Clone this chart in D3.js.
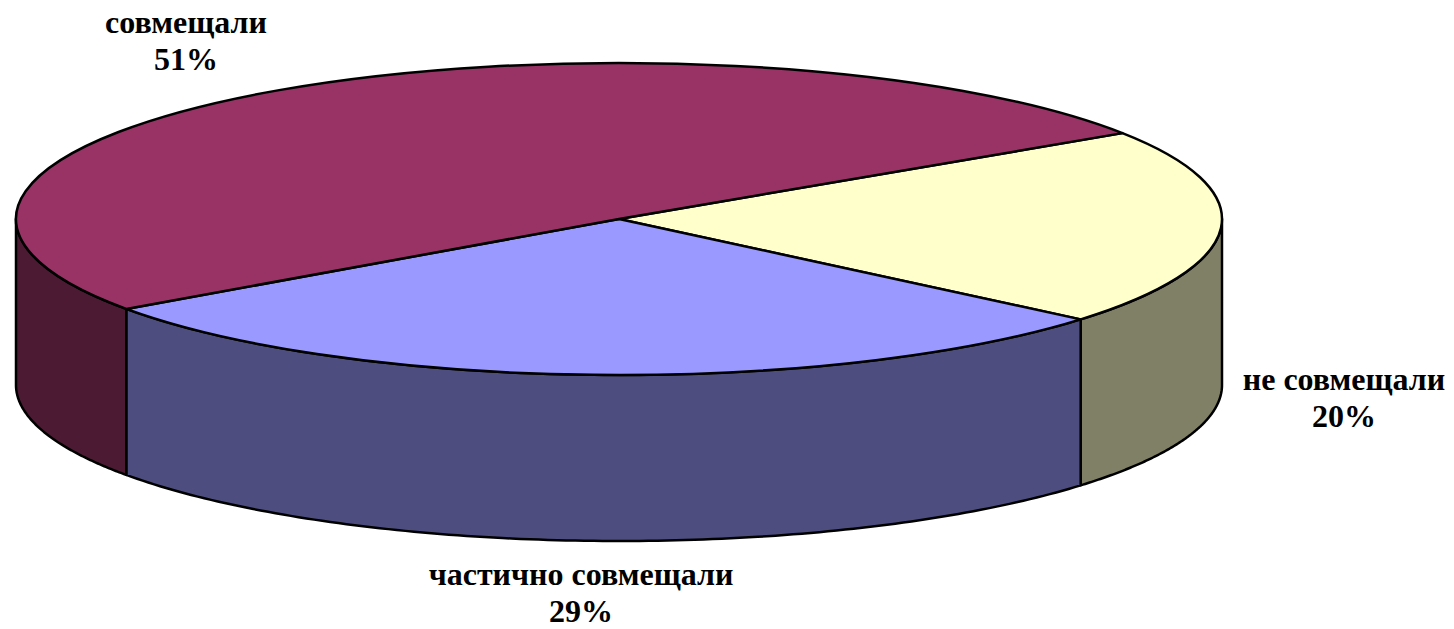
<!DOCTYPE html>
<html>
<head>
<meta charset="utf-8">
<script src="https://cdn.jsdelivr.net/npm/d3@7"></script>
<style>
    html, body { margin: 0; padding: 0; background: #fff; }
    svg { display: block; }
    text { font-family: "Liberation Serif", serif; font-weight: bold; font-size: 32px; fill: #000; }
</style>
</head>
<body>
<div id="chart"></div>
<script>
// Data, in drawing order (clockwise from the upper right edge)
const categories = ['не совмещали', 'частично совмещали', 'совмещали'];
const percentLabels = ['20%', '29%', '51%'];
// slice sizes
const shares = [20.4, 29.1, 50.5];
const topColors = ['#FFFFCC', '#9999FF', '#993366'];
const sideColors = ['#808066', '#4D4D80', '#4D1A33'];

const width = 1454, height = 629;
const cx = 619, cy = 219;      // centre of the top ellipse
const rx = 603, ry = 156;      // ellipse radii
const depth = 166;             // height of the disc
const startAngle = 56.6 * Math.PI / 180;
const unit = 1000;             // radius of the arcs before they get squashed

const svg = d3.select('#chart')
    .append('svg')
    .attr('width', width)
    .attr('height', height);

const slices = d3.pie()
    .sort(null)
    .startAngle(startAngle)
    .endAngle(startAngle + 2 * Math.PI)
    .value(d => d)(shares);

// d3 angles: 0 at twelve o'clock, going clockwise
const px = a => cx + rx * Math.sin(a);
const py = a => cy - ry * Math.cos(a);

const line = d3.line().x(d => d[0]).y(d => d[1]);

// Only the front half of the disc (90deg..270deg) has a visible wall
function wallPath(slice) {
    const a0 = Math.max(slice.startAngle, Math.PI / 2);
    const a1 = Math.min(slice.endAngle, 3 * Math.PI / 2);
    if (a1 <= a0) return null;
    const steps = d3.range(0, 121).map(i => a0 + (a1 - a0) * i / 120);
    const top = steps.map(a => [px(a), py(a)]);
    const bottom = steps.slice().reverse().map(a => [px(a), py(a) + depth]);
    return line(top.concat(bottom)) + 'Z';
}

// Walls
svg.append('g')
    .selectAll('path')
    .data(slices)
    .enter()
    .append('path')
    .attr('d', wallPath)
    .attr('fill', (d, i) => sideColors[i])
    .attr('stroke', '#000')
    .attr('stroke-width', 2.5)
    .attr('stroke-linejoin', 'round');

// Top of the disc
const arc = d3.arc().innerRadius(0).outerRadius(unit);

svg.append('g')
    .attr('transform', `translate(${cx},${cy}) scale(${rx / unit},${ry / unit})`)
    .selectAll('path')
    .data(slices)
    .enter()
    .append('path')
    .attr('d', arc)
    .attr('fill', (d, i) => topColors[i])
    .attr('stroke', '#000')
    .attr('stroke-width', 2.5)
    .attr('stroke-linejoin', 'round')
    .attr('vector-effect', 'non-scaling-stroke');

// Labels: name on one line, percentage under it
const labelPos = [[1344, 390], [581, 585], [186, 33]];
const labels = svg.append('g')
    .selectAll('text')
    .data(slices)
    .enter()
    .append('text')
    .attr('text-anchor', 'middle')
    .attr('x', (d, i) => labelPos[i][0])
    .attr('y', (d, i) => labelPos[i][1]);

labels.append('tspan')
    .text((d, i) => categories[i]);

labels.append('tspan')
    .attr('x', (d, i) => labelPos[i][0])
    .attr('dy', 37)
    .text((d, i) => percentLabels[i]);
</script>
</body>
</html>
